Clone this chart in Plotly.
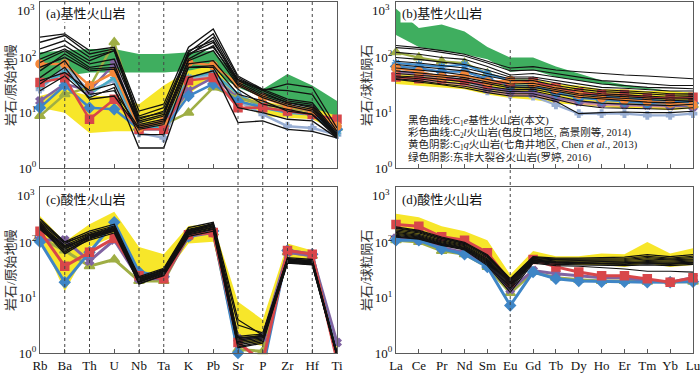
import plotly.graph_objects as go

# ---------------- categories ----------------
TE = ["Rb", "Ba", "Th", "U", "Nb", "Ta", "K", "Pb", "Sr", "P", "Zr", "Hf", "Ti"]
REE = ["La", "Ce", "Pr", "Nd", "Sm", "Eu", "Gd", "Tb", "Dy", "Ho", "Er", "Tm", "Yb", "Lu"]

Y_TICKVALS = [1, 10, 100]
Y_TICKTEXT = ["10<sup>0</sup>", "10<sup>1</sup>", "10<sup>2</sup>"]
Y_TOP_LABEL = "10<sup>3</sup>"

# ---------------- panel (a): basic, primitive-mantle normalised ----------------
A_GREEN_UP = [123, 132, 142, 142, 115, 115, 123, 132, 40, 26.5, 50, 31, 16.3]
A_GREEN_LO = [38, 46, 53, 53, 53, 53, 57, 53, 28.5, 18.7, 15.2, 12.3, 6.1]
A_YELLOW_UP = [20, 26.5, 20, 20, 14.2, 31, 57, 71, 20, 16.3, 13.2, 12.3, 8.7]
A_YELLOW_LO = [12.3, 10, 4.3, 4.6, 4.6, 5.3, 21.5, 46, 15.2, 8.7, 8.1, 7.6, 4.6]
A_BLACK = [
    [231, 266, 132, 152, 10.7, 14.2, 152, 327, 46, 26.5, 17.5, 15.2, 4.3],
    [187, 248, 115, 142, 8.7, 12.3, 123, 266, 43, 25, 16.3, 14.2, 4.0],
    [142, 201, 100, 132, 7.6, 10.7, 107, 231, 38, 23, 15.2, 13.2, 4.0],
    [115, 163, 87, 132, 6.6, 8.7, 132, 201, 35, 21.5, 15.2, 12.3, 3.8],
    [81, 132, 66, 76, 6.1, 7.6, 93, 163, 33, 20, 14.2, 11.5, 3.8],
    [57, 115, 61, 66, 5.7, 7.1, 87, 132, 31, 18.7, 13.2, 10.7, 3.7],
    [43, 87, 21.5, 25, 5.3, 6.6, 76, 87, 26.5, 14.2, 11.5, 9.3, 3.5],
    [33, 66, 17.5, 20, 5.0, 6.1, 66, 66, 12.3, 10, 7.6, 7.1, 3.5],
    [25, 46, 18.7, 28.5, 2.3, 2.3, 43, 57, 6.6, 7.1, 5.0, 4.6, 3.5],
    [38, 53, 25, 33, 4.0, 4.0, 66, 71, 21.5, 16.3, 10.7, 9.3, 3.8],
    [66, 100, 57, 61, 7.1, 9.3, 115, 152, 38, 25, 33, 28.5, 5.3],
    [93, 142, 76, 93, 8.1, 10, 115, 187, 40, 26.5, 25, 21.5, 4.6],
]
A_ORANGE = [76, 76, 31, 53, 5.3, 7.1, 81, 71, 33, 18.7, 13.2, 10.7, 5.7]
A_RED = [35, 43, 7.6, 17.5, 5.0, 5.0, 38, 43, 12.3, 12.3, 10.7, 9.3, 7.6]
A_BLUE = [12.3, 31, 12.3, 11.5, 5.0, 5.0, 20, 33, 16.3, 12.3, 10.7, 9.3, 5.0]
A_OLIVE = [8.7, 21.5, 28.5, 187, 6.1, 6.1, 10, 28.5, 18.7, 14.2, 12.3, 10.7, 5.3]
A_PURPLE = [16.3, 33, 25, 76, 5.7, 6.1, 25, 43, 18.7, 14.2, 12.3, 10.7, 5.3]
A_STEEL = [26.5, 66, 25, 38, 4.3, 3.5, 38, 50, 16.3, 9.3, 5.7, 5.3, 4.0]
A_CYAN = [31, 53, 21.5, 43, 5.0, 5.7, 43, 53, 21.5, 12.3, 10, 9.3, 4.3]

# ---------------- panel (b): basic, chondrite normalised ----------------
B_GREEN_UP = [758, 340, 394, 294, 153, 99, 99, 68, 51, 38, 32, 27.7, 24.7, 23]
B_GREEN_LO = [254, 153, 132, 114, 92, 55, 59, 44, 38, 33, 28.6, 26.6, 23.6, 21.3]
B_YELLOW_UP = [51, 48, 44, 41, 33, 41, 41, 33, 31, 26.6, 26.6, 24.7, 24.7, 23]
B_YELLOW_LO = [33, 31, 28.6, 26.6, 21.3, 18.4, 17.1, 14.8, 13.8, 12.8, 11.9, 11.9, 11.1, 11.9]
B_BLACK = [
    [164, 150, 132, 114, 85, 64, 68, 59, 55, 51, 48, 46, 44, 41],
    [150, 140, 123, 106, 79, 57, 59, 51, 44, 38, 36, 33, 31, 31],
    [123, 114, 99, 92, 68, 48, 51, 44, 38, 33, 31, 28.6, 28, 27],
    [99, 92, 82, 74, 59, 44, 44, 38, 33, 28.6, 27.7, 26, 24.7, 24.7],
    [85, 79, 71, 64, 51, 41, 41, 34, 29, 26, 25, 23.6, 22, 22],
    [74, 68, 62, 57, 46, 38, 38, 31, 26.6, 24, 23, 22, 20.7, 21],
    [64, 59, 54, 48, 40, 33, 34, 28, 24.7, 22, 21, 20, 19, 19.5],
    [57, 53, 48, 43, 36, 30, 31, 26, 22, 20.5, 19.5, 18.4, 17.6, 18],
    [51, 48, 44, 40, 33, 28, 28.6, 24, 20.7, 19, 18, 17.1, 16.4, 17],
    [46, 44, 40, 36, 30, 26, 26.6, 22, 19, 17.6, 16.4, 15.5, 15, 16],
    [44, 41, 36, 33, 27, 24, 24.7, 20, 16.4, 14.8, 14.2, 13.8, 13.4, 14.2],
    [41, 38, 33, 30, 25, 22, 22, 17.6, 13.8, 12.3, 12, 11.9, 11.5, 12.3],
    [40, 36, 32, 28, 23, 20, 20, 16, 9.6, 10, 10.3, 10, 10, 10.6],
]
B_ORANGE = [64, 55, 44, 48, 36, 38, 33, 26.6, 21.3, 18.4, 17.1, 16, 14.8, 13.8]
B_RED = [44, 41, 41, 38, 33, 36, 36, 28.6, 23, 21.3, 21.3, 18.4, 18.4, 19]
B_AQUA = [79, 74, 68, 74, 51, 38, 38, 28.6, 23, 19.8, 18.4, 17.1, 16, 16]
B_STEEL = [64, 55, 44, 38, 24.7, 21.3, 19.8, 13.8, 9.6, 9.6, 9.6, 8.9, 8.9, 9.6]
B_OLIVE = [123, 99, 85, 79, 51, 38, 33, 24.7, 19.8, 17.1, 16, 15.5, 14.8, 13.8]
B_PURPLE = [55, 51, 44, 39, 28.6, 24.7, 23, 18.4, 16, 14.8, 14.2, 13.8, 13.4, 12.8]
B_BLUE = [68, 64, 55, 55, 41, 31, 31, 23, 18.4, 17.1, 16, 14.8, 14.8, 14.8]
B_TAN = [51, 48, 41, 38, 28.6, 23, 23, 18.4, 16, 14.8, 14.2, 13.8, 13.4, 13.8]
B_PINK = [41, 38, 36, 32, 24.7, 21.3, 20.7, 17.1, 14.8, 13.8, 13.4, 12.8, 12.8, 13.4]

# ---------------- panel (c): acidic, primitive-mantle normalised ----------------
C_YELLOW_UP = [300, 102, 213, 357, 82, 61, 198, 213, 8.4, 4.0, 95, 71, 1.34]
C_YELLOW_LO = [128, 13, 82, 128, 22, 24, 95, 102, 1.67, 1.34, 49, 46, 0.86]
C_BLACK = [
    [266, 102, 159, 213, 24, 34, 184, 230, 4.0, 2.1, 53, 49, 1.0],
    [230, 95, 148, 198, 22, 32, 171, 213, 1.8, 2.1, 50, 46, 0.95],
    [213, 88, 137, 184, 21, 30, 159, 198, 1.7, 2.0, 48, 44, 0.95],
    [198, 82, 128, 171, 20, 29, 148, 184, 1.6, 1.9, 46, 42, 0.9],
    [184, 76, 119, 159, 19, 27, 137, 171, 1.5, 1.8, 44, 40, 0.9],
    [171, 71, 110, 148, 18, 25, 128, 159, 1.4, 1.7, 42, 39, 0.88],
    [246, 100, 140, 190, 23, 31, 160, 210, 2.0, 2.2, 47, 43, 0.95],
    [205, 66, 125, 165, 19.5, 28, 150, 190, 1.3, 1.6, 45, 41, 0.92],
    [220, 78, 132, 178, 17.5, 26, 142, 175, 1.25, 1.5, 43, 40, 0.9],
    [190, 62, 115, 160, 21, 30, 155, 200, 3.2, 2.3, 51, 45, 1.0],
    [178, 85, 122, 175, 22, 33, 165, 220, 1.9, 2.0, 49, 47, 0.97],
]
C_RED = [159, 37, 66, 119, 25, 22, 137, 150, 1.55, 0.69, 71, 61, 0.74]
C_BLUE = [102, 19, 66, 230, 29, 24, 128, 160, 1.0, 0.52, 71, 61, 0.86]
C_PURPLE = [110, 110, 46, 110, 22, 22, 128, 150, 1.8, 1.94, 66, 57, 1.55]
C_OLIVE = [119, 71, 37, 49, 20, 20, 137, 150, 1.16, 1.07, 66, 57, 0.86]

# ---------------- panel (d): acidic, chondrite normalised ----------------
D_YELLOW_UP = [328, 283, 196, 158, 109, 26, 70, 56, 56, 63, 61, 101, 63, 78]
D_YELLOW_LO = [136, 118, 94, 76, 42, 19, 45, 42, 39, 39, 36, 42, 36, 39]
D_BLACK = [
    [190, 165, 125, 100, 60, 22, 55, 52, 52, 53, 54, 60, 55, 60],
    [178, 155, 118, 95, 56, 21, 53, 50, 50, 50, 51, 56, 52, 56],
    [168, 148, 112, 91, 53, 20, 51, 48, 48, 48, 49, 53, 50, 53],
    [160, 140, 106, 87, 50, 19, 50, 46, 46, 46, 47, 50, 48, 50],
    [152, 134, 102, 84, 48, 18, 48, 45, 44, 44, 45, 47, 46, 48],
    [146, 128, 98, 81, 46, 17, 47, 44, 43, 42, 43, 45, 44, 46],
    [140, 124, 95, 79, 44, 16, 46, 43, 42, 41, 41, 43, 42, 44],
    [134, 120, 92, 77, 42, 15, 45, 42, 41, 40, 40, 41, 40, 42],
    [128, 117, 90, 75, 40, 14, 44, 40, 39, 38, 38, 39, 38, 40],
    [124, 114, 88, 73, 38, 12.5, 42, 38, 37, 35, 33, 30, 30, 29],
    [182, 160, 120, 97, 58, 21, 54, 49, 47, 45, 43, 42, 41, 43],
]
D_RED = [211, 196, 126, 109, 65, 19, 49, 36, 29, 25, 25, 22, 19, 23]
D_BLUE = [109, 109, 76, 61, 36, 7.2, 29, 22, 20, 19.4, 19.4, 19, 19, 19.4]
D_OLIVE = [109, 101, 70, 61, 36, 12.1, 29, 23, 21, 20, 20, 19.4, 19.4, 19.4]
D_PURPLE = [118, 110, 81, 65, 39, 14, 31, 27, 25, 23, 23, 20, 19, 23]

# ---------------- styles ----------------
GREEN = "#3fae5f"
YELLOW = "#f7e62a"
BLACK = "#111111"
FRAME = "#5a5a5a"
SERIF = "Liberation Serif, Times New Roman, Noto Sans CJK SC, serif"
CJK = "Liberation Serif, Noto Sans CJK SC, serif"

STY = {
    "orange": dict(color="#f5883a", symbol="circle", size=8),
    "red": dict(color="#d8474a", symbol="square", size=8),
    "blue": dict(color="#3f86c6", symbol="diamond", size=8),
    "olive": dict(color="#9fae45", symbol="triangle-up", size=9),
    "purple": dict(color="#8064a2", symbol="x", size=7),
    "steel": dict(color="#98aed3", symbol="cross", size=6),
    "cyan": dict(color="#4bacc6", symbol="asterisk-open", size=7),
    "aqua": dict(color="#3f8ed0", symbol="asterisk-open", size=7),
    "tan": dict(color="#c9a784", symbol="circle", size=4),
    "pink": dict(color="#d99694", symbol="circle", size=4),
}

fig = go.Figure()


def band(cats, up, lo, color, xa, ya):
    fig.add_trace(go.Scatter(
        x=cats + cats[::-1], y=up + lo[::-1], fill="toself", fillcolor=color,
        mode="lines", line=dict(width=0), xaxis=xa, yaxis=ya,
        hoverinfo="skip", showlegend=False))


def colored(cats, vals, key, xa, ya, width=2.5):
    s = STY[key]
    fig.add_trace(go.Scatter(
        x=cats, y=vals, mode="lines+markers",
        line=dict(color=s["color"], width=width),
        marker=dict(color=s["color"], symbol=s["symbol"], size=s["size"],
                    line=dict(color=s["color"], width=1.5)),
        xaxis=xa, yaxis=ya, cliponaxis=False, hoverinfo="skip", showlegend=False))


def black(cats, rows, xa, ya, width=1.2):
    for r in rows:
        fig.add_trace(go.Scatter(
            x=cats, y=r, mode="lines", line=dict(color=BLACK, width=width),
            xaxis=xa, yaxis=ya, hoverinfo="skip", showlegend=False))


# (a)
band(TE, A_GREEN_UP, A_GREEN_LO, GREEN, "x", "y")
band(TE, A_YELLOW_UP, A_YELLOW_LO, YELLOW, "x", "y")
for vals, key in [(A_STEEL, "steel"), (A_CYAN, "cyan"), (A_PURPLE, "purple"), (A_OLIVE, "olive"),
                  (A_BLUE, "blue"), (A_RED, "red"), (A_ORANGE, "orange")]:
    colored(TE, vals, key, "x", "y")
black(TE, A_BLACK, "x", "y", 1.3)

# (b)
band(REE, B_GREEN_UP, B_GREEN_LO, GREEN, "x2", "y2")
band(REE, B_YELLOW_UP, B_YELLOW_LO, YELLOW, "x2", "y2")
for vals, key in [(B_STEEL, "steel"), (B_TAN, "tan"), (B_PINK, "pink"), (B_PURPLE, "purple"),
                  (B_OLIVE, "olive"), (B_BLUE, "blue"), (B_AQUA, "aqua"), (B_RED, "red"),
                  (B_ORANGE, "orange")]:
    colored(REE, vals, key, "x2", "y2", 2.2)
black(REE, B_BLACK, "x2", "y2", 1.1)

# (c)
band(TE, C_YELLOW_UP, C_YELLOW_LO, YELLOW, "x3", "y3")
for vals, key in [(C_OLIVE, "olive"), (C_PURPLE, "purple"), (C_BLUE, "blue"), (C_RED, "red")]:
    colored(TE, vals, key, "x3", "y3", 3)
black(TE, C_BLACK, "x3", "y3", 1.3)

# (d)
band(REE, D_YELLOW_UP, D_YELLOW_LO, YELLOW, "x4", "y4")
for vals, key in [(D_OLIVE, "olive"), (D_PURPLE, "purple"), (D_BLUE, "blue"), (D_RED, "red")]:
    colored(REE, vals, key, "x4", "y4", 3)
black(REE, D_BLACK, "x4", "y4", 1.2)

# ---------------- layout ----------------
W, H = 700, 373
XL = [40 / W, 337 / W]
XR = [396 / W, 693 / W]
YT = [1 - 168 / H, 1 - 2 / H]
YB = [1 - 353 / H, 1 - 187 / H]


def xax(domain, anchor, cats, labels):
    return dict(domain=domain, anchor=anchor, type="category", categoryorder="array",
                categoryarray=cats, range=[0, len(cats) - 1], showticklabels=labels,
                ticks="inside", ticklen=4, tickcolor=FRAME, showline=True, mirror=True,
                linecolor=FRAME, linewidth=1, showgrid=False, zeroline=False,
                automargin=False, ticklabeloverflow="allow",
                tickfont=dict(family=SERIF, size=13, color="#111"))


def yax(domain, anchor):
    return dict(domain=domain, anchor=anchor, type="log", range=[0, 3],
                tickmode="array", tickvals=Y_TICKVALS, ticktext=Y_TICKTEXT,
                ticks="", showline=True, mirror=True, linecolor=FRAME, linewidth=1,
                showgrid=False, zeroline=False, automargin=False,
                ticklabeloverflow="allow",
                tickfont=dict(family=SERIF, size=13, color="#111"))


shapes = []
for i in [1, 2, 4, 5, 8, 9, 10, 11]:
    shapes.append(dict(type="line", xref="x", yref="paper", x0=i, x1=i,
                       y0=YB[0], y1=YT[1], line=dict(color="#444", width=1, dash="dot"), layer="above"))
shapes.append(dict(type="line", xref="x2", yref="paper", x0=5, x1=5,
                   y0=YB[0], y1=1 - 48 / H, line=dict(color="#444", width=1, dash="dot"), layer="above"))

ann = []
# top "10^3" labels, pulled slightly inside the panel as in the original
for xpx, ypx in [(37, 10), (392, 10), (37, 195), (392, 195)]:
    ann.append(dict(text=Y_TOP_LABEL, x=xpx / W, y=1 - ypx / H, xref="paper", yref="paper",
                    xanchor="right", yanchor="middle", showarrow=False,
                    font=dict(family=SERIF, size=13, color="#111")))
for label, x0, ytop in [("(a)基性火山岩", 44, 13), ("(b)基性火山岩", 400, 13),
                        ("(c)酸性火山岩", 44, 199), ("(d)酸性火山岩", 400, 199)]:
    ann.append(dict(text=label, x=x0 / W, y=1 - ytop / H, xref="paper", yref="paper",
                    xanchor="left", yanchor="middle", showarrow=False, bgcolor="white",
                    borderpad=1, font=dict(family=CJK, size=13, color="#111")))
for label, xpx, yc in [("岩石/原始地幔", 10, sum(YT) / 2), ("岩石/球粒陨石", 366, sum(YT) / 2),
                       ("岩石/原始地幔", 10, sum(YB) / 2), ("岩石/球粒陨石", 366, sum(YB) / 2)]:
    ann.append(dict(text=label, x=xpx / W, y=yc, xref="paper", yref="paper",
                    xanchor="center", yanchor="middle", textangle=-90, showarrow=False,
                    font=dict(family=CJK, size=13, color="#333")))

LEGEND_LINES = [
    "黑色曲线:C<sub>1</sub><i>e</i>基性火山岩(本文)",
    "彩色曲线:C<sub>2</sub><i>l</i>火山岩(色皮口地区, 高景刚等, 2014)",
    "黄色阴影:C<sub>1</sub><i>q</i>火山岩(七角井地区, Chen <i>et al</i>., 2013)",
    "绿色阴影:东非大裂谷火山岩(罗婷, 2016)",
]
for k, line in enumerate(LEGEND_LINES):
    ann.append(dict(text=line, x=407 / W, y=1 - (121 + 12 * k) / H, xref="paper", yref="paper",
                    xanchor="left", yanchor="middle", showarrow=False, borderpad=0,
                    font=dict(family=CJK, size=10.5, color="#222")))

fig.update_layout(
    width=W, height=H, margin=dict(l=0, r=0, t=0, b=0, autoexpand=False),
    paper_bgcolor="white", plot_bgcolor="white", showlegend=False,
    xaxis=xax(XL, "y", TE, False), yaxis=yax(YT, "x"),
    xaxis2=xax(XR, "y2", REE, False), yaxis2=yax(YT, "x2"),
    xaxis3=xax(XL, "y3", TE, True), yaxis3=yax(YB, "x3"),
    xaxis4=xax(XR, "y4", REE, True), yaxis4=yax(YB, "x4"),
    shapes=shapes, annotations=ann,
)

fig.write_html("out.html", config={"displayModeBar": False, "staticPlot": True},
               post_script="document.body.style.margin='0px';")
